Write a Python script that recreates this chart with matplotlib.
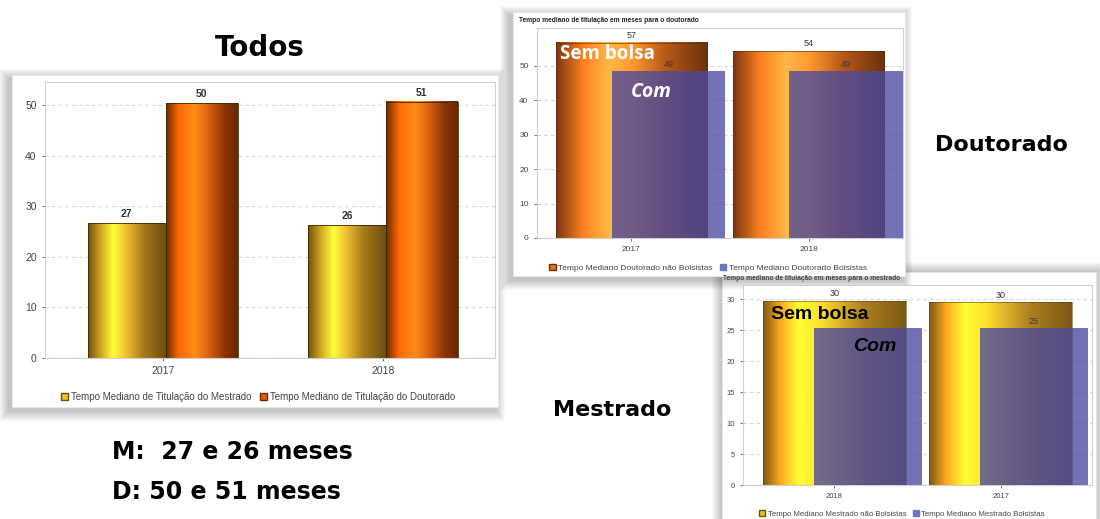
import matplotlib
matplotlib.use("Agg")
import matplotlib.pyplot as plt
import numpy as np
from matplotlib.colors import LinearSegmentedColormap
from matplotlib.patches import Rectangle, Patch

# ---- data ----
years_todos = ["2017", "2018"]
mestrado_todos = [26.7, 26.3]
doutorado_todos = [50.4, 50.7]

years_dout = ["2017", "2018"]
dout_sem_bolsa = [56.7, 54.3]
dout_com_bolsa = [48.6, 48.6]

years_mest = ["2018", "2017"]
mest_sem_bolsa = [29.7, 29.5]
mest_com_bolsa = [25.4, 25.4]

W, H = 1100, 519


def rect(x0, y0, x1, y1):
    # pixel box (top-left origin) -> figure fraction
    return [x0 / W, 1 - y1 / H, (x1 - x0) / W, (y1 - y0) / H]


cm_mest = LinearSegmentedColormap.from_list("mest", [
    (0, "#6e5010"), (0.14, "#c89a20"), (0.32, "#ffff3a"), (0.48, "#f0c030"),
    (0.7, "#a87a1c"), (1, "#6a4c10")])
cm_dout = LinearSegmentedColormap.from_list("dout", [
    (0, "#6a2a00"), (0.18, "#ff6a08"), (0.4, "#ff8c1a"), (0.6, "#d86010"),
    (0.82, "#8a3405"), (1, "#6a2800")])
cm_dout2 = LinearSegmentedColormap.from_list("dout2", [
    (0, "#7a3810"), (0.18, "#ff8020"), (0.35, "#ffb848"), (0.5, "#ff9a30"),
    (0.72, "#b85a18"), (1, "#6a300c")])
cm_mest2 = LinearSegmentedColormap.from_list("mest2", [
    (0, "#7a5a10"), (0.12, "#ffa820"), (0.25, "#ffff30"), (0.4, "#ffe030"),
    (0.7, "#b08020"), (1, "#7a5a14")])
blue = "#4a4aa0"


def grad_bars(ax, x, h, width, cmap, z=2, edge="#3a2a00", lw=0.6):
    bars = ax.bar(x, h, width, color="none", edgecolor=edge, linewidth=lw, zorder=z + 0.1)
    grad = np.linspace(0, 1, 256).reshape(1, -1)
    for b in bars:
        ax.imshow(grad, cmap=cmap, aspect="auto", interpolation="bicubic", zorder=z,
                  extent=[b.get_x(), b.get_x() + b.get_width(), 0, b.get_height()])
    return bars


def style_axes(ax, ticksize, grid_c="#d4d4d4"):
    for s in ax.spines.values():
        s.set_color("#cfcfcf")
        s.set_linewidth(0.8)
    ax.yaxis.grid(True, linestyle=(0, (3, 3)), color=grid_c, linewidth=0.8)
    ax.set_axisbelow(True)
    ax.tick_params(labelsize=ticksize, colors="#555555", length=2.5, width=0.6)
    for lab in ax.get_xticklabels() + ax.get_yticklabels():
        lab.set_color("#444444")


fig = plt.figure(figsize=(11, 5.19), dpi=100)
plt.rcParams["font.family"] = ["Liberation Sans", "DejaVu Sans"]

# background layer with the slide cards
bg = fig.add_axes([0, 0, 1, 1], zorder=0)
bg.set_xlim(0, W)
bg.set_ylim(H, 0)
bg.axis("off")


def card(x0, y0, x1, y1, dx=-3, dy=4):
    for k in range(10, 0, -1):
        bg.add_patch(Rectangle((x0 - k + dx, y0 - k + dy), x1 - x0 + 2 * k, y1 - y0 + 2 * k,
                               facecolor="black", alpha=0.025, linewidth=0))
    bg.add_patch(Rectangle((x0, y0), x1 - x0, y1 - y0, facecolor="white",
                           edgecolor="#e8e8e8", linewidth=0.6))


card(12, 75, 498, 407)
card(722, 272, 1096, 530, dx=0, dy=0)
card(513, 12, 905, 276)

# ---- panel 1: Todos ----
ax1 = fig.add_axes(rect(45, 82, 495, 358), zorder=2)
x = np.arange(len(years_todos))
b1 = grad_bars(ax1, x - 0.164, mestrado_todos, 0.355, cm_mest)
b2 = grad_bars(ax1, x + 0.177, doutorado_todos, 0.327, cm_dout)
ax1.set_xlim(-0.536, 1.509)
ax1.set_ylim(0, 54.6)
ax1.set_yticks(range(0, 51, 10))
ax1.set_xticks(x, years_todos)
style_axes(ax1, 7.5)
ax1.bar_label(b1, labels=[f"{v:.0f}" for v in mestrado_todos], padding=3,
              fontsize=7.5, fontweight="bold", color="#333333")
ax1.bar_label(b2, labels=[f"{v:.0f}" for v in doutorado_todos], padding=3,
              fontsize=7.5, fontweight="bold", color="#333333")
fig.legend(handles=[Patch(facecolor="#e8c020", edgecolor="#6e5010", label="Tempo Mediano de Titulação do Mestrado"),
                    Patch(facecolor="#e85a08", edgecolor="#6a2a00", label="Tempo Mediano de Titulação do Doutorado")],
           loc="center", bbox_to_anchor=(258 / W, 1 - 397 / H), ncol=2, frameon=False,
           fontsize=7, handlelength=0.8, handleheight=0.8, handletextpad=0.3, columnspacing=0.8,
           labelcolor="#444444")

# ---- panel 2: Doutorado ----
ax2 = fig.add_axes(rect(537, 28, 903, 238), zorder=3)
x = np.arange(len(years_dout))
b3 = grad_bars(ax2, x, dout_sem_bolsa, 0.85, cm_dout2, edge="#5a2a08", lw=0.4)
b4 = ax2.bar(x + 0.21, dout_com_bolsa, 0.64, color=blue, alpha=0.78, zorder=3)
ax2.set_xlim(-0.53, 1.53)
ax2.set_ylim(0, 61)
ax2.set_yticks(range(0, 51, 10))
ax2.set_xticks(x, years_dout)
style_axes(ax2, 6)
ax2.bar_label(b3, labels=[f"{v:.0f}" for v in dout_sem_bolsa], padding=2, fontsize=6.5, color="#333333")
ax2.bar_label(b4, labels=[f"{v:.0f}" for v in dout_com_bolsa], padding=1, fontsize=6.5, color="#3a3a3a")
ax2.text(-0.40, 53.5, "Sem bolsa", fontsize=13.5, fontweight="bold", color="white",
         family=["Open Sans", "DejaVu Sans"], va="center", zorder=6)
ax2.text(0.0, 42.5, "Com", fontsize=14, fontweight="bold", color="white", style="italic",
         family=["Open Sans", "DejaVu Sans"], va="center", zorder=6)
fig.text(519 / W, 1 - 21 / H, "Tempo mediano de titulação em meses para o doutorado",
         fontsize=4.8, fontweight="bold", color="#222222", va="center")
fig.legend(handles=[Patch(facecolor="#e07020", edgecolor="#6a300c", label="Tempo Mediano Doutorado não Bolsistas"),
                    Patch(facecolor="#6b78c0", edgecolor="#6b78c0", label="Tempo Mediano Doutorado Bolsistas")],
           loc="center", bbox_to_anchor=(708 / W, 1 - 268 / H), ncol=2, frameon=False,
           fontsize=6, handlelength=0.8, handleheight=0.8, handletextpad=0.3, columnspacing=0.8,
           labelcolor="#444444")

# ---- panel 3: Mestrado ----
ax3 = fig.add_axes(rect(743, 285, 1092, 485), zorder=2)
x = np.arange(len(years_mest))
b5 = grad_bars(ax3, x, mest_sem_bolsa, 0.86, cm_mest2, edge="#5a4410", lw=0.4)
b6 = ax3.bar(x + 0.2, mest_com_bolsa, 0.65, color=blue, alpha=0.78, zorder=3)
ax3.set_xlim(-0.55, 1.55)
ax3.set_ylim(0, 32.3)
ax3.set_yticks(range(0, 31, 5))
ax3.set_xticks(x, years_mest)
style_axes(ax3, 5.5)
ax3.bar_label(b5, labels=[f"{v:.0f}" for v in mest_sem_bolsa], padding=2, fontsize=6.5, color="#333333")
ax3.bar_label(b6, labels=["", f"{mest_com_bolsa[1]:.0f}"], padding=1, fontsize=6.5, color="#3a3a3a")
ax3.text(-0.38, 27.5, "Sem bolsa", fontsize=14, fontweight="bold", color="black", va="center", zorder=6)
ax3.text(0.11, 22.4, "Com", fontsize=14, fontweight="bold", color="black", style="italic",
         va="center", zorder=6)
fig.text(723 / W, 1 - 279 / H, "Tempo mediano de titulação em meses para o mestrado",
         fontsize=4.8, fontweight="bold", color="#444444", va="center")
fig.legend(handles=[Patch(facecolor="#e8c020", edgecolor="#6e5010", label="Tempo Mediano Mestrado não Bolsistas"),
                    Patch(facecolor="#6b78c0", edgecolor="#6b78c0", label="Tempo Mediano Mestrado Bolsistas")],
           loc="center", bbox_to_anchor=(902 / W, 1 - 514 / H), ncol=2, frameon=False,
           fontsize=5.6, handlelength=0.8, handleheight=0.8, handletextpad=0.3, columnspacing=0.8,
           labelcolor="#444444")

# ---- slide text ----
fig.text(260 / W, 1 - 48 / H, "Todos", fontsize=20, fontweight="bold", ha="center", va="center",
         family="DejaVu Sans")
fig.text(1001 / W, 1 - 145 / H, "Doutorado", fontsize=16, fontweight="bold", ha="center", va="center",
         family="DejaVu Sans")
fig.text(612 / W, 1 - 410 / H, "Mestrado", fontsize=16, fontweight="bold", ha="center", va="center",
         family="DejaVu Sans")
fig.text(112 / W, 1 - 452 / H, "M:  27 e 26 meses", fontsize=17, fontweight="bold", va="center",
         family="DejaVu Sans")
fig.text(112 / W, 1 - 492 / H, "D: 50 e 51 meses", fontsize=17, fontweight="bold", va="center",
         family="DejaVu Sans")

fig.savefig("out.png", dpi=100)
